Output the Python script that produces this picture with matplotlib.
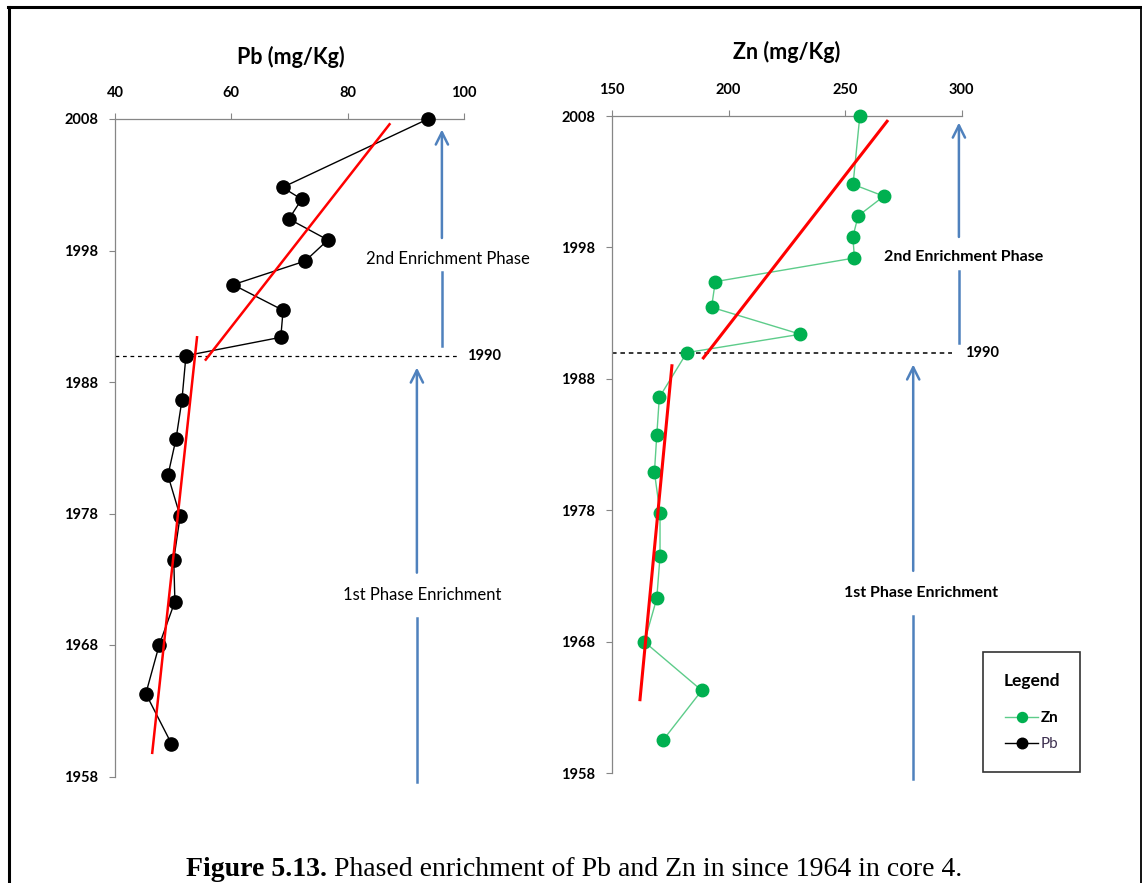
import matplotlib
matplotlib.use("Agg")
import matplotlib.pyplot as plt
from matplotlib.lines import Line2D
from matplotlib.text import Annotation

plt.rcParams['font.family'] = ['Lato', 'DejaVu Sans']

# ---------------------------------------------------------
# DATA (read from the core 4 profile)
# ---------------------------------------------------------
years = [2008.0, 2002.8, 2001.9, 2000.4, 1998.8, 1997.2, 1995.4, 1993.45, 1991.4, 1990.0,
         1986.6, 1983.7, 1980.9, 1977.8, 1974.5, 1971.3, 1968.0, 1964.3, 1960.5]
pb = [93.8, 68.8, 72.1, 69.9, 76.6, 72.7, 60.3, 68.9, 68.5, 52.2,
      51.5, 50.5, 49.1, 51.2, 50.1, 50.3, 47.6, 45.3, 49.7]
zn = [256.3, 253.4, 266.6, 255.6, 253.3, 254.0, 194.3, 192.7, 230.8, 182.1,
      170.3, 169.2, 168.2, 170.6, 170.6, 169.2, 163.9, 188.5, 171.8]

# hand-drawn trend lines (x, year) for the two phases
pb_trend_late_x, pb_trend_late_y = [55.6, 87.2], [1989.7, 2007.6]
pb_trend_early_x, pb_trend_early_y = [46.4, 54.1], [1959.8, 1991.4]
zn_trend_late_x, zn_trend_late_y = [189.2, 268.0], [1989.6, 2007.6]
zn_trend_early_x, zn_trend_early_y = [162.0, 175.7], [1963.6, 1989.0]

pb_ticks = [40, 60, 80, 100]
zn_ticks = [150, 200, 250, 300]
year_ticks = [1958, 1968, 1978, 1988, 1998, 2008]
break_year = 1990

ARROW = '#4F81BD'
W, H = 1142, 883


def px_box(x0, x1, ytop, ybot):
    return [x0 / W, 1 - ybot / H, (x1 - x0) / W, (ybot - ytop) / H]


def style_axis(ax, xlim, xticks):
    ax.set_xlim(*xlim)
    ax.set_ylim(1958, 2008)
    ax.set_xticks(xticks)
    ax.set_yticks(year_ticks)
    ax.xaxis.tick_top()
    for s in ['right', 'bottom']:
        ax.spines[s].set_visible(False)
    for s in ['left', 'top']:
        ax.spines[s].set_color('#868686')
        ax.spines[s].set_linewidth(0.9)
    ax.tick_params(axis='both', direction='out', length=4, width=0.8,
                   color='#868686', labelsize=10.5, pad=8)
    ax.tick_params(axis='x', pad=9.5)
    for lab in ax.get_xticklabels() + ax.get_yticklabels():
        lab.set_fontweight('bold')
    ax.patch.set_visible(False)


def phase_arrow(ax, x, y_bottom, gap_lo, gap_hi, y_tip):
    ax.plot([x, x], [y_bottom, gap_lo], color=ARROW, lw=1.8, clip_on=False)
    ax.annotate('', xy=(x, y_tip), xytext=(x, gap_hi),
                arrowprops=dict(arrowstyle='->', color=ARROW, lw=1.8,
                                mutation_scale=22, shrinkA=0, shrinkB=0),
                annotation_clip=False)


fig = plt.figure(figsize=(W / 100, H / 100), dpi=100)

# ---------------------------------------------------------
# Pb PANEL
# ---------------------------------------------------------
ax1 = fig.add_axes(px_box(115, 464, 119, 776.5))
style_axis(ax1, (40, 100), pb_ticks)
pb_line, = ax1.plot(pb, years, color='black', lw=1, marker='o', ms=9.5,
                    markerfacecolor='black', clip_on=False, zorder=3)
ax1.plot(pb_trend_late_x, pb_trend_late_y, color='#FF0000', lw=1.8, zorder=4)
ax1.plot(pb_trend_early_x, pb_trend_early_y, color='#FF0000', lw=1.8, zorder=4)
ax1.plot([40, 99], [break_year, break_year], color='black', lw=0.9, ls=(0, (3, 3)))
ax1.text(100.6, break_year, '1990', fontsize=10.5, fontweight='bold', va='center', ha='left')

phase_arrow(ax1, 96.2, 1990.7, 1996.4, 1998.95, 2007.2)
ax1.text(97.2, 1997.35, '2nd Enrichment Phase', fontsize=12, ha='center', va='center')
phase_arrow(ax1, 91.9, 1957.6, 1970.05, 1973.5, 1989.1)
ax1.text(92.8, 1971.8, '1st Phase Enrichment', fontsize=12, ha='center', va='center')

# ---------------------------------------------------------
# Zn PANEL
# ---------------------------------------------------------
ax2 = fig.add_axes(px_box(612, 961.7, 116, 773.3))
style_axis(ax2, (150, 300), zn_ticks)
zn_line, = ax2.plot(zn, years, color='#5DCC8A', lw=1, marker='o', ms=9,
                    markerfacecolor='#00B050', markeredgecolor='#00B050',
                    clip_on=False, zorder=3)
ax2.plot(zn_trend_late_x, zn_trend_late_y, color='#FF0000', lw=2.2, zorder=4)
ax2.plot(zn_trend_early_x, zn_trend_early_y, color='#FF0000', lw=2.2, zorder=4)
ax2.plot([150, 296], [break_year, break_year], color='black', lw=1.1, ls=(0, (3, 2.5)))
ax2.text(301.3, break_year, '1990', fontsize=10.5, fontweight='bold', va='center', ha='left')

phase_arrow(ax2, 298.8, 1990.75, 1996.2, 1998.8, 2007.5)
ax2.text(301.0, 1997.3, '2nd Enrichment Phase', fontsize=11.5, fontweight='bold',
         ha='center', va='center')
phase_arrow(ax2, 279.2, 1957.6, 1969.95, 1973.4, 1989.1)
ax2.text(282.4, 1971.75, '1st Phase Enrichment', fontsize=11.5, fontweight='bold',
         ha='center', va='center')

# ---------------------------------------------------------
# TITLES, LEGEND, CAPTION, FRAME
# ---------------------------------------------------------
fig.text(291 / W, 1 - 57 / H, 'Pb (mg/Kg)', fontsize=15.5, fontweight='bold', ha='center', va='center')
fig.text(787 / W, 1 - 52 / H, 'Zn (mg/Kg)', fontsize=15.5, fontweight='bold', ha='center', va='center')

leg = fig.legend([zn_line, pb_line], ['Zn', 'Pb'], title='Legend',
                 loc='upper left', bbox_to_anchor=(982.7 / W, 1 - 652 / H), borderaxespad=0,
                 fontsize=11, title_fontsize=12.5, frameon=True, fancybox=False,
                 edgecolor='black', borderpad=1.35, labelspacing=0.8,
                 handlelength=2.2, handletextpad=0.15, markerscale=0.8)
leg.get_frame().set_linewidth(1.2)
leg.get_title().set_fontweight('bold')
leg._legend_box.sep = 16
leg.get_texts()[1].set_color('#3F3151')
leg.get_texts()[0].set_fontweight('bold')

cap = fig.text(186 / W, 1 - 882 / H, 'Figure 5.13.', fontsize=20, fontweight='bold',
               family='Liberation Serif', ha='left', va='bottom')
fig.add_artist(Annotation(' Phased enrichment of Pb and Zn in since 1964 in core 4.',
                          xy=(1, 0), xycoords=cap, fontsize=20,
                          family='Liberation Serif', ha='left', va='bottom'))

fig.add_artist(Line2D([9 / W, 9 / W], [0, 1 - 7 / H], color='black', lw=2.2))
fig.add_artist(Line2D([8 / W, 1141 / W], [1 - 7 / H, 1 - 7 / H], color='black', lw=2.2))
fig.add_artist(Line2D([1140.5 / W, 1140.5 / W], [0, 1 - 7 / H], color='black', lw=1.3))

fig.savefig('out.png', dpi=100)
